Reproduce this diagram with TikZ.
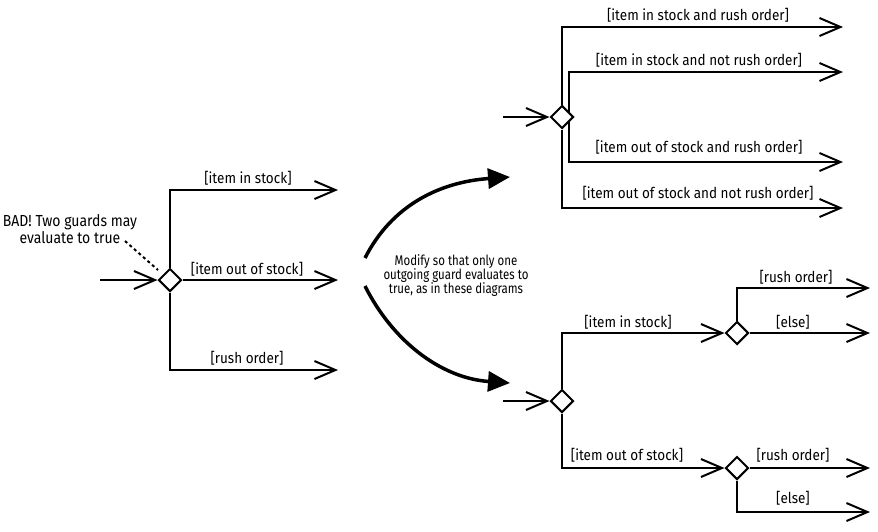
\documentclass[tikz,border=0pt]{standalone}
\usepackage{fontspec}
\setmainfont[FakeStretch=0.9]{Fira Sans}
\newfontfamily\modfont[FakeStretch=0.82]{Fira Sans}
\newfontfamily\badfont[FakeStretch=0.875]{Fira Sans}
\usetikzlibrary{arrows.meta,shapes.geometric}
\pgfdeclarelayer{bg}
\pgfsetlayers{bg,main}
\begin{document}
\begin{tikzpicture}[x=1pt,y=-1pt,
  flow/.style={line width=2pt,-{Straight Barb[length=21pt,width=18pt]}},
  decision/.style={diamond,draw,line width=2pt,fill=white,aspect=1,minimum size=23pt,inner sep=0pt},
  guard/.style={font=\fontsize{15}{16}\selectfont,inner sep=0pt},
  note/.style={font=\modfont\fontsize{14}{14}\selectfont,align=center,inner sep=0pt},
  badnote/.style={font=\badfont\fontsize{16}{15}\selectfont,align=center,inner sep=0pt},
  bigarrow/.style={line width=3.5pt,-{Triangle[length=22pt,width=20pt]}}]
\useasboundingbox (0,0) rectangle (878,531);

% ---------- left diagram ----------
\node[decision] (d1) at (170,280) {};
\coordinate (in1) at (100,280);
\coordinate (e1) at (338,190);
\coordinate (e2) at (338,280);
\coordinate (e3) at (338,370);
\node[guard] (g1) at (248,178) {[item in stock]};
\node[guard] (g2) at (247,269) {[item out of stock]};
\node[guard] (g3) at (247,358) {[rush order]};
\node[badnote] (bad) at (70,229) {BAD! Two guards may\\evaluate to true};
\coordinate (ds) at (125,241);
\coordinate (de) at (158,270);
\begin{pgfonlayer}{bg}
\draw[flow] (in1) -- (d1.west);
\draw[flow] (d1.north) |- (e1);
\draw[flow] (d1.east) -- (e2);
\draw[flow] (d1.south) |- (e3);
\end{pgfonlayer}
\draw[line width=2pt,dash pattern=on 3pt off 3pt] (ds) -- (de);

% ---------- middle ----------
\node[note] (mod) at (456,276) {Modify so that only one\\outgoing guard evaluates to\\true, as in these diagrams};
\coordinate (a1s) at (365,258);
\coordinate (a1e) at (510,177);
\coordinate (a2s) at (365,286);
\coordinate (a2e) at (510,383);
\draw[bigarrow] (a1s) .. controls (392,205) and (440,182) .. (a1e);
\draw[bigarrow] (a2s) .. controls (392,340) and (440,378) .. (a2e);

% ---------- top right diagram ----------
\node[decision] (d2) at (562,117) {};
\coordinate (in2) at (503,117);
\coordinate (i2) at (569,117);
\coordinate (f1) at (843,27);
\coordinate (f2) at (843,72);
\coordinate (f3) at (843,162);
\coordinate (f4) at (843,208);
\node[guard] (h1) at (698,15) {[item in stock and rush order]};
\node[guard] (h2) at (699,60) {[item in stock and not rush order]};
\node[guard] (h3) at (699,147) {[item out of stock and rush order]};
\node[guard] (h4) at (698,193) {[item out of stock and not rush order]};
\begin{pgfonlayer}{bg}
\draw[flow] (in2) -- (d2.west);
\draw[flow] (d2.north) |- (f1);
\draw[flow] (i2) |- (f2);
\draw[flow] (i2) |- (f3);
\draw[flow] (d2.south) |- (f4);
\end{pgfonlayer}

% ---------- bottom right diagram ----------
\node[decision] (d3) at (562,401) {};
\node[decision] (d4) at (737,333) {};
\node[decision] (d5) at (737,468) {};
\coordinate (in3) at (503,401);
\coordinate (k1) at (870,288);
\coordinate (k2) at (870,333);
\coordinate (k3) at (870,468);
\coordinate (k4) at (870,512);
\node[guard] (m1) at (628,322) {[item in stock]};
\node[guard] (m2) at (627,455) {[item out of stock]};
\node[guard] (m3) at (796,277) {[rush order]};
\node[guard] (m4) at (793,322) {[else]};
\node[guard] (m5) at (793,455) {[rush order]};
\node[guard] (m6) at (793,498) {[else]};
\begin{pgfonlayer}{bg}
\draw[flow] (in3) -- (d3.west);
\draw[flow] (d3.north) |- (d4.west);
\draw[flow] (d3.south) |- (d5.west);
\draw[flow] (d4.north) |- (k1);
\draw[flow] (d4.east) -- (k2);
\draw[flow] (d5.east) -- (k3);
\draw[flow] (d5.south) |- (k4);
\end{pgfonlayer}
\end{tikzpicture}
\end{document}
